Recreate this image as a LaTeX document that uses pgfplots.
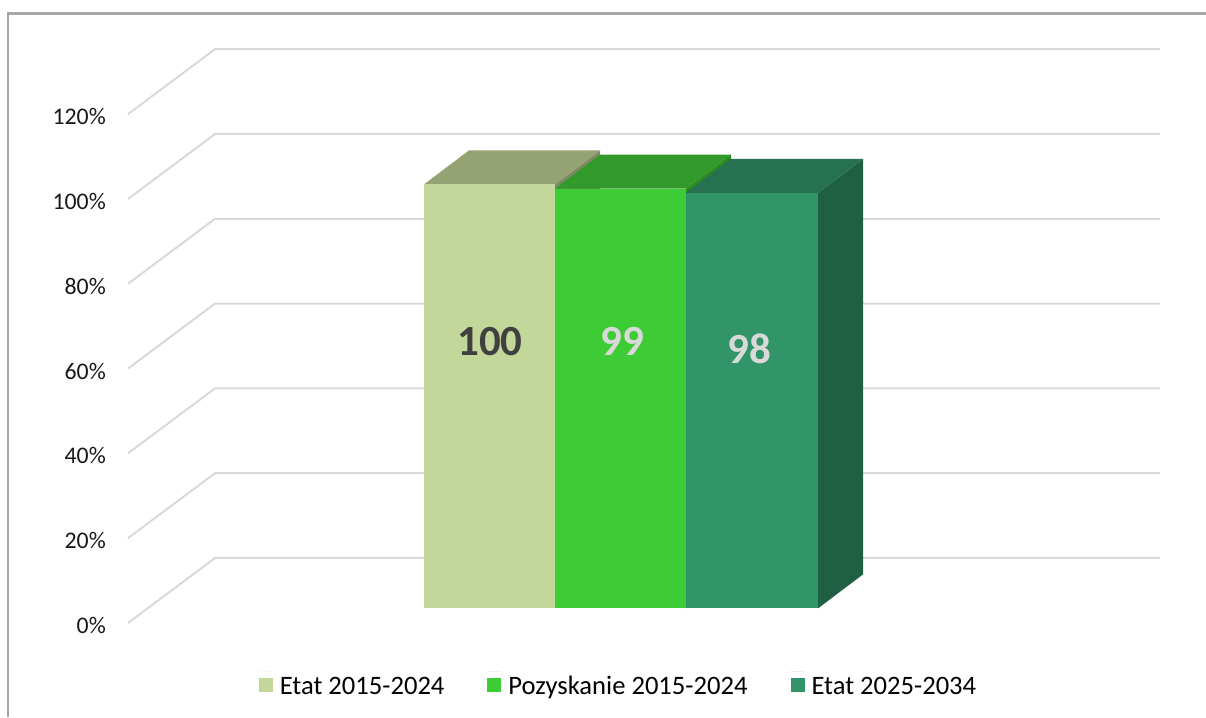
\documentclass[border=0pt]{standalone}
\usepackage{fontspec}
\setmainfont{Carlito}
\usepackage{pgfplots}
\pgfplotsset{compat=1.18}
\definecolor{barA}{HTML}{C4D79B}
\definecolor{barAtop}{HTML}{94A274}
\definecolor{barAside}{HTML}{7F8A65}
\definecolor{barB}{HTML}{3ECC36}
\definecolor{barBtop}{HTML}{319A2A}
\definecolor{barBside}{HTML}{2B8A22}
\definecolor{barC}{HTML}{329569}
\definecolor{barCtop}{HTML}{257151}
\definecolor{barCside}{HTML}{1F6045}
\definecolor{gridc}{HTML}{D9D9D9}
\definecolor{framec}{HTML}{A6A6A6}
\begin{document}
\begin{tikzpicture}
\useasboundingbox (0,0) rectangle (1206pt,717pt);
\begin{axis}[
  at={(0,0)},anchor=south west,
  scale only axis,width=1206pt,height=717pt,
  xmin=0,xmax=1206,ymin=-22.17,ymax=146.93,
  clip=false,
  axis line style={draw=none},
  major tick length=0pt,
  xtick=\empty,
  ytick={0,20,40,60,80,100,120},
  yticklabel={\pgfmathprintnumber{\tick}\%},
  yticklabel style={/pgf/number format/assume math mode=true,anchor=east,inner sep=0pt,xshift=106pt,yshift=-2.5pt,font=\fontsize{23.8}{28}\selectfont,text=black!90},
  legend columns=3,
  legend style={at={(axis cs:619.5,-14.6)},anchor=center,draw=none,fill=none,
    font=\fontsize{26.6}{32}\selectfont,text=black,inner sep=0pt,
    /tikz/every odd column/.append style={column sep=3pt},
    /tikz/every even column/.append style={column sep=39pt},
    nodes={inner xsep=4pt}},
  legend cell align=left,
]
% gridlines
\pgfplotsset{gl/.style={draw=gridc,line width=2pt,forget plot,mark=none}}
\addplot[gl] coordinates {(128,0)(215,15.33)(1160,15.33)};
\addplot[gl] coordinates {(128,20)(215,35.33)(1160,35.33)};
\addplot[gl] coordinates {(128,40)(215,55.33)(1160,55.33)};
\addplot[gl] coordinates {(128,60)(215,75.33)(1160,75.33)};
\addplot[gl] coordinates {(128,80)(215,95.33)(1160,95.33)};
\addplot[gl] coordinates {(128,100)(215,115.33)(1160,115.33)};
\addplot[gl] coordinates {(128,120)(215,135.33)(1160,135.33)};
% bar 1 faces
\addplot[forget plot,fill=barAside,draw=none,yshift=14.6pt] coordinates {(555,100)(600,108.02)(600,8.02)(555,0)} --cycle;
\addplot[forget plot,fill=barAtop,draw=none,yshift=14.6pt] coordinates {(424,100)(469,108.02)(600,108.02)(555,100)} --cycle;
% bar 2 faces
\addplot[forget plot,fill=barBside,draw=none,yshift=14.6pt] coordinates {(686,99)(731,107.02)(731,8.02)(686,0)} --cycle;
\addplot[forget plot,fill=barBtop,draw=none,yshift=14.6pt] coordinates {(555,99)(600,107.02)(731,107.02)(686,99)} --cycle;
% bar 3 faces
\addplot[forget plot,fill=barCside,draw=none,yshift=14.6pt] coordinates {(818,98)(863,106.02)(863,8.02)(818,0)} --cycle;
\addplot[forget plot,fill=barCtop,draw=none,yshift=14.6pt] coordinates {(686,98)(731,106.02)(863,106.02)(818,98)} --cycle;
% front faces
\pgfplotsset{lg/.style={legend image code/.code={\path (0pt,0pt) -- (14pt,0pt);\fill[##1,draw=none,overlay] (0pt,-20pt) rectangle (14pt,-6pt);}}}
\addplot[ybar,bar width=131,bar shift=0pt,fill=barA,draw=none,yshift=14.6pt,lg] coordinates {(489.5,100)};
\addlegendentry{Etat 2015-2024}
\addplot[ybar,bar width=131,bar shift=0pt,fill=barB,draw=none,yshift=14.6pt,lg] coordinates {(620.5,99)};
\addlegendentry{Pozyskanie 2015-2024}
\addplot[ybar,bar width=132,bar shift=0pt,fill=barC,draw=none,yshift=14.6pt,lg] coordinates {(752,98)};
\addlegendentry{Etat 2025-2034}
% data labels
\node[font=\bfseries\fontsize{43}{50}\selectfont,text=black!75] at (axis cs:490,66.3) {100};
\node[font=\bfseries\fontsize{43}{50}\selectfont,text=gridc] at (axis cs:622,66.3) {99};
\node[font=\bfseries\fontsize{43}{50}\selectfont,text=gridc] at (axis cs:749,64.6) {98};
% frame
\draw[framec,line width=2.4pt] (axis cs:8,-22.17) -- (axis cs:8,143.75) -- (axis cs:1206,143.75);
\end{axis}
\end{tikzpicture}
\end{document}
